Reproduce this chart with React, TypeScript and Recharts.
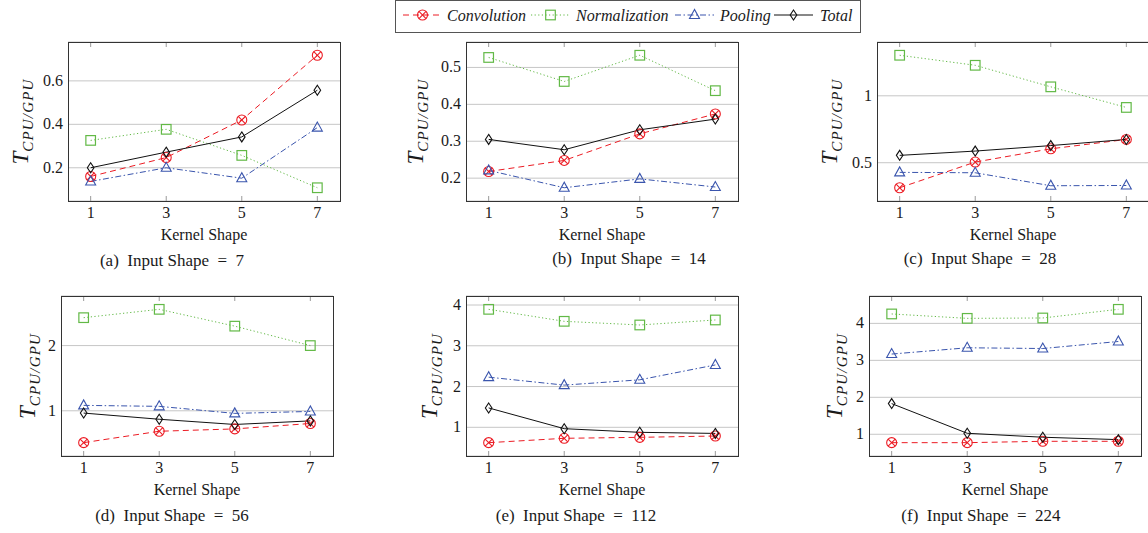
import React from 'react';
import { LineChart, Line, XAxis, YAxis, CartesianGrid } from 'recharts';

// kernel shapes on the x axis (shared by all six panels)
const kernelShapes = [1, 3, 5, 7];

// (a) input shape = 7
const conv7 = [0.16, 0.247, 0.42, 0.718];
const norm7 = [0.326, 0.377, 0.257, 0.108];
const pool7 = [0.137, 0.2, 0.152, 0.385];
const total7 = [0.2, 0.272, 0.342, 0.557];
const yTicks7 = [0.2, 0.4, 0.6];

// (b) input shape = 14
const conv14 = [0.218, 0.248, 0.32, 0.374];
const norm14 = [0.527, 0.462, 0.533, 0.437];
const pool14 = [0.221, 0.174, 0.198, 0.176];
const total14 = [0.305, 0.277, 0.331, 0.36];
const yTicks14 = [0.2, 0.3, 0.4, 0.5];

// (c) input shape = 28
const conv28 = [0.313, 0.505, 0.604, 0.674];
const norm28 = [1.303, 1.228, 1.067, 0.913];
const pool28 = [0.428, 0.425, 0.328, 0.33];
const total28 = [0.555, 0.587, 0.628, 0.674];
const yTicks28 = [0.5, 1];

// (d) input shape = 56
const conv56 = [0.511, 0.686, 0.722, 0.805];
const norm56 = [2.428, 2.556, 2.298, 2.0];
const pool56 = [1.083, 1.068, 0.96, 0.99];
const total56 = [0.965, 0.87, 0.79, 0.845];
const yTicks56 = [1, 2];

// (e) input shape = 112
const conv112 = [0.623, 0.73, 0.754, 0.786];
const norm112 = [3.894, 3.6, 3.51, 3.633];
const pool112 = [2.23, 2.035, 2.165, 2.53];
const total112 = [1.475, 0.966, 0.877, 0.85];
const yTicks112 = [1, 2, 3, 4];

// (f) input shape = 224
const conv224 = [0.773, 0.773, 0.81, 0.81];
const norm224 = [4.255, 4.136, 4.146, 4.38];
const pool224 = [3.17, 3.34, 3.32, 3.51];
const total224 = [1.83, 1.027, 0.92, 0.855];
const yTicks224 = [1, 2, 3, 4];

const SERIF = "'Liberation Serif', 'DejaVu Serif', 'Noto Serif', 'Times New Roman', Times, serif";
const RED = '#ec1c24';
const GREEN = '#62b946';
const BLUE = '#3a55ad';
const BLACK = '#111111';

function ConvMark({ cx, cy }: any) {
  const r = 5;
  const d = r * 0.7071;
  return (
    <g stroke={RED} strokeWidth={1.1} fill="none">
      <circle cx={cx} cy={cy} r={r} />
      <line x1={cx - d} y1={cy - d} x2={cx + d} y2={cy + d} />
      <line x1={cx - d} y1={cy + d} x2={cx + d} y2={cy - d} />
    </g>
  );
}

function NormMark({ cx, cy }: any) {
  return <rect x={cx - 4.8} y={cy - 4.8} width={9.6} height={9.6} stroke={GREEN} strokeWidth={1.2} fill="none" />;
}

function PoolMark({ cx, cy }: any) {
  return (
    <polygon
      points={`${cx},${cy - 5.5} ${cx - 5},${cy + 3.5} ${cx + 5},${cy + 3.5}`}
      stroke={BLUE}
      strokeWidth={1.1}
      fill="none"
    />
  );
}

function TotalMark({ cx, cy }: any) {
  return (
    <polygon
      points={`${cx},${cy - 5} ${cx + 3.3},${cy} ${cx},${cy + 5} ${cx - 3.3},${cy}`}
      stroke={BLACK}
      strokeWidth={1.1}
      fill="none"
    />
  );
}

const series = [
  { key: 'conv', name: 'Convolution', color: RED, dash: '6 4', Mark: ConvMark },
  { key: 'norm', name: 'Normalization', color: GREEN, dash: '1.2 2.4', Mark: NormMark },
  { key: 'pool', name: 'Pooling', color: BLUE, dash: '6 2.5 1.5 2.5', Mark: PoolMark },
  { key: 'total', name: 'Total', color: BLACK, dash: undefined, Mark: TotalMark },
];

// legend layout: line start x and text start x for each entry
const legendLineX = [403, 531, 675, 774];
const legendTextX = [447, 576, 720, 820];

const panels = [
  { tag: 'a', input: 7, conv: conv7, norm: norm7, pool: pool7, total: total7, yTicks: yTicks7,
    box: { x: 68, y: 42, w: 272, h: 159 }, titleGap: 40, capX: 172, capY: 266 },
  { tag: 'b', input: 14, conv: conv14, norm: norm14, pool: pool14, total: total14, yTicks: yTicks14,
    box: { x: 466, y: 42, w: 272, h: 159 }, titleGap: 43, capX: 629, capY: 264 },
  { tag: 'c', input: 28, conv: conv28, norm: norm28, pool: pool28, total: total28, yTicks: yTicks28,
    box: { x: 877, y: 42, w: 272, h: 159 }, titleGap: 40, capX: 980, capY: 264 },
  { tag: 'd', input: 56, conv: conv56, norm: norm56, pool: pool56, total: total56, yTicks: yTicks56,
    box: { x: 61, y: 296, w: 272, h: 160 }, titleGap: 26, capX: 172, capY: 521 },
  { tag: 'e', input: 112, conv: conv112, norm: norm112, pool: pool112, total: total112, yTicks: yTicks112,
    box: { x: 466, y: 296, w: 272, h: 160 }, titleGap: 29, capX: 576, capY: 521 },
  { tag: 'f', input: 224, conv: conv224, norm: norm224, pool: pool224, total: total224, yTicks: yTicks224,
    box: { x: 869, y: 296, w: 272, h: 160 }, titleGap: 27, capX: 981, capY: 521 },
];

const YW = 40;
const XH = 24;
const MT = 4;
const MR = 6;

function Panel({ p }: any) {
  const data = kernelShapes.map((k, i) => ({
    k,
    conv: p.conv[i],
    norm: p.norm[i],
    pool: p.pool[i],
    total: p.total[i],
  }));
  // pgfplots-style limits: data range enlarged by 10% on each side
  const all = [...p.conv, ...p.norm, ...p.pool, ...p.total];
  const lo = Math.min(...all);
  const hi = Math.max(...all);
  const pad = (hi - lo) * 0.1;
  const h = p.box.h;

  const xTick = (props: any) => {
    const { x, y, payload, index } = props;
    return (
      <g key={`xt${index}`}>
        <line x1={x} x2={x} y1={y} y2={y - 5} stroke="#9a9a9a" />
        <line x1={x} x2={x} y1={y - h} y2={y - h + 5} stroke="#9a9a9a" />
        <text x={x} y={y + 17} textAnchor="middle" fontFamily={SERIF} fontSize={16} fill="#1a1a1a">
          {payload.value}
        </text>
      </g>
    );
  };

  const yTick = (props: any) => {
    const { x, y, payload, index } = props;
    return (
      <text key={`yt${index}`} x={x - 5} y={y + 5} textAnchor="end" fontFamily={SERIF} fontSize={16} fill="#1a1a1a">
        {payload.value}
      </text>
    );
  };

  return (
    <div style={{ position: 'absolute', left: p.box.x - YW, top: p.box.y - MT }}>
      <LineChart
        width={YW + p.box.w + MR}
        height={MT + h + XH}
        data={data}
        margin={{ top: MT, right: MR, bottom: 0, left: 0 }}
      >
        <CartesianGrid vertical={false} stroke="#c6c6c6" />
        <XAxis
          dataKey="k"
          type="number"
          domain={[0.4, 7.6]}
          ticks={kernelShapes}
          interval={0}
          height={XH}
          axisLine={false}
          tickLine={false}
          tickSize={0}
          tickMargin={0}
          tick={xTick}
          allowDataOverflow
        />
        <YAxis
          type="number"
          domain={[lo - pad, hi + pad]}
          ticks={p.yTicks}
          interval={0}
          width={YW}
          axisLine={false}
          tickLine={false}
          tickSize={0}
          tickMargin={0}
          tick={yTick}
          allowDataOverflow
        />
        {series.map((s) => (
          <Line
            key={s.key}
            dataKey={s.key}
            name={s.name}
            stroke={s.color}
            strokeWidth={1}
            strokeDasharray={s.dash}
            dot={(dp: any) => <s.Mark key={`${s.key}${dp.index}`} cx={dp.cx} cy={dp.cy} />}
            activeDot={false}
            isAnimationActive={false}
          />
        ))}
      </LineChart>
    </div>
  );
}

export default function App() {
  return (
    <div
      style={{
        position: 'absolute',
        left: 0,
        top: 0,
        width: 1148,
        height: 533,
        overflow: 'hidden',
        background: '#fff',
        fontFamily: SERIF,
      }}
    >
      {panels.map((p) => (
        <Panel key={p.tag} p={p} />
      ))}
      <svg width={1148} height={533} style={{ position: 'absolute', left: 0, top: 0, pointerEvents: 'none' }}>
        {/* legend */}
        <rect x={395.5} y={0.5} width={465} height={32} fill="#fff" stroke="#555" />
        {series.map((s, i) => (
          <g key={s.key}>
            <line
              x1={legendLineX[i]}
              x2={legendLineX[i] + 39}
              y1={15}
              y2={15}
              stroke={s.color}
              strokeWidth={1}
              strokeDasharray={s.dash}
            />
            <s.Mark cx={legendLineX[i] + 19.5} cy={15} />
            <text x={legendTextX[i]} y={21} fontFamily={SERIF} fontStyle="italic" fontSize={16} fill="#1a1a1a">
              {s.name}
            </text>
          </g>
        ))}
        {panels.map((p) => (
          <g key={p.tag}>
            <rect x={p.box.x + 0.5} y={p.box.y + 0.5} width={p.box.w} height={p.box.h} fill="none" stroke="#333" />
            <text
              transform={`translate(${p.box.x - p.titleGap},${p.box.y + p.box.h / 2}) rotate(-90)`}
              textAnchor="middle"
              fontFamily={SERIF}
              fontStyle="italic"
              fill="#1a1a1a"
            >
              <tspan fontSize={23}>T</tspan>
              <tspan fontSize={15} dy={5} letterSpacing={1.2}>
                CPU/GPU
              </tspan>
            </text>
            <text
              x={p.box.x + p.box.w / 2}
              y={p.box.y + p.box.h + 39}
              textAnchor="middle"
              fontFamily={SERIF}
              fontSize={16}
              fill="#1a1a1a"
            >
              Kernel Shape
            </text>
            <text x={p.capX} y={p.capY} textAnchor="middle" fontFamily={SERIF} fontSize={17} fill="#1a1a1a">
              {`(${p.tag})\u2002Input Shape\u2002=\u2002${p.input}`}
            </text>
          </g>
        ))}
      </svg>
    </div>
  );
}
